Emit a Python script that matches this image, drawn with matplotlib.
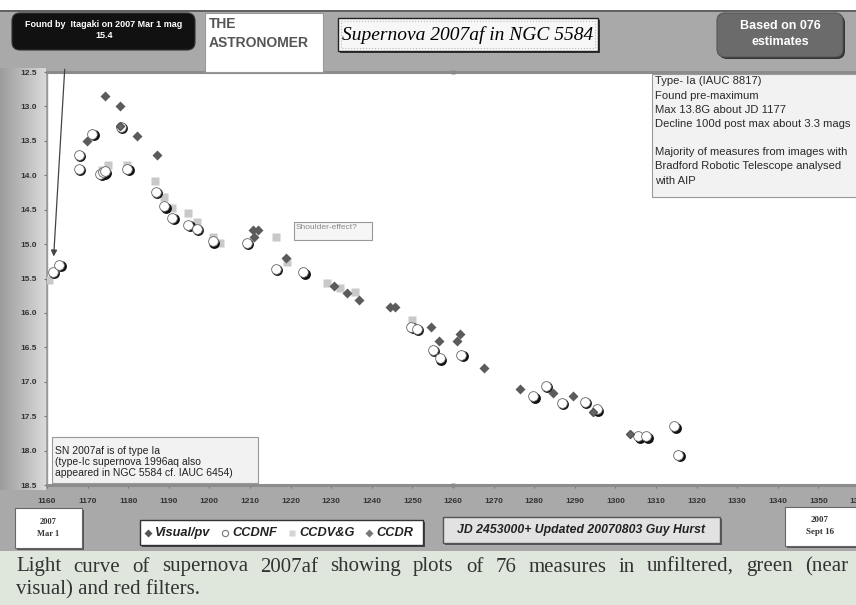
import matplotlib
matplotlib.use('Agg')
import matplotlib.pyplot as plt
import numpy as np
from matplotlib.patches import Rectangle, FancyBboxPatch
from matplotlib.colors import LinearSegmentedColormap
from matplotlib.transforms import offset_copy

# light curve data (JD - 2453000, magnitude)
visual_jd = [1169.8, 1174.3, 1178.1, 1182.1, 1187.0, 1210.8, 1212.0, 1211.1, 1218.9, 1230.7,
             1233.8, 1236.9, 1244.6, 1245.7, 1254.6, 1256.6, 1260.9, 1261.7, 1267.7, 1276.6,
             1284.6, 1289.6]
visual_mag = [13.50, 12.85, 13.00, 13.43, 13.70, 14.80, 14.80, 14.90, 15.20, 15.61,
              15.71, 15.81, 15.92, 15.92, 16.21, 16.41, 16.41, 16.31, 16.80, 17.10,
              17.16, 17.21]

ccdnf_jd = [1161.4, 1163.0, 1167.9, 1167.9, 1171.2, 1173.1, 1173.9, 1174.3, 1178.2, 1179.8,
            1186.8, 1188.9, 1190.9, 1194.8, 1196.9, 1200.8, 1209.2, 1216.3, 1223.1, 1249.7,
            1251.1, 1255.0, 1256.8, 1262.0, 1279.8, 1282.8, 1286.8, 1292.5, 1295.4, 1305.6,
            1307.6, 1314.5, 1315.5]
ccdnf_mag = [15.40, 15.30, 13.70, 13.91, 13.40, 13.98, 13.96, 13.94, 13.30, 13.91,
             14.24, 14.45, 14.62, 14.72, 14.78, 14.96, 14.98, 15.36, 15.41, 16.20,
             16.23, 16.54, 16.66, 16.61, 17.21, 17.06, 17.31, 17.29, 17.40, 17.79,
             17.79, 17.65, 18.06]

ccdvg_jd = [1160.5, 1173.5, 1175.0, 1179.8, 1186.6, 1188.8, 1190.9, 1194.8, 1196.9, 1200.8,
            1202.6, 1216.3, 1219.0, 1229.0, 1232.2, 1235.9, 1249.9]
ccdvg_mag = [15.52, 13.92, 13.85, 13.85, 14.08, 14.32, 14.48, 14.55, 14.68, 14.90,
             14.99, 14.90, 15.26, 15.57, 15.64, 15.70, 16.11]

ccdr_jd = [1178.0, 1294.4, 1303.6]
ccdr_mag = [13.29, 17.44, 17.76]

marker_jd = [1260, 1260]
marker_mag = [12.5, 18.5]

x_ticks = list(range(1160, 1361, 10))
y_ticks = [12.5, 13.0, 13.5, 14.0, 14.5, 15.0, 15.5, 16.0, 16.5, 17.0, 17.5, 18.0, 18.5]

legend_labels = ['Visual/pv', 'CCDNF', 'CCDV&G', 'CCDR']

caption_lines = ['Light curve of supernova 2007af showing plots of 76 measures in unfiltered, green (near',
                 'visual) and red filters.']

W, H = 856, 605
fig = plt.figure(figsize=(W / 100, H / 100), dpi=100)
fig.patch.set_facecolor('white')
renderer = fig.canvas.get_renderer()

SANS = 'Liberation Sans'
SERIF = 'Liberation Serif'

# background layer in pixel coords
bg = fig.add_axes([0, 0, 1, 1], zorder=0)
bg.axis('off')
bg.add_patch(Rectangle((0, 10), W, 541, facecolor='#a9a9a9', edgecolor='none'))
bg.plot([0, W], [10.5, 10.5], color='#555555', lw=1.2)
grad = LinearSegmentedColormap.from_list('g', ['#9c9c9c', '#dadada'])
bg.imshow(np.linspace(0, 1, 60)[None, :], cmap=grad, extent=[0, 46, 490, 68], aspect='auto', zorder=1)
bg.add_patch(Rectangle((0, 551), W, 54, facecolor='#dfe7dc', edgecolor='none'))
bg.set_xlim(0, W)
bg.set_ylim(H, 0)

# main plot
ax = fig.add_axes([47 / W, (H - 485) / H, (859 - 47) / W, (485 - 72) / H], zorder=2)
ax.set_facecolor('white')
ax.set_xlim(1160, 1360)
ax.set_ylim(18.5, 12.5)
ax.set_xticks(x_ticks)
ax.set_yticks(y_ticks)
ax.set_yticklabels(['%.1f' % v for v in y_ticks])
ax.tick_params(axis='both', direction='out', length=2.5, color='#777777', labelsize=6,
               labelcolor='#333333')
ax.tick_params(axis='x', pad=7)
ax.tick_params(axis='y', pad=5)
for lab in ax.get_xticklabels() + ax.get_yticklabels():
    lab.set_fontfamily(SANS)
    lab.set_fontweight('bold')
for side in ['top', 'bottom']:
    ax.spines[side].set_color('#8c8c8c')
    ax.spines[side].set_linewidth(2.2)
ax.spines['left'].set_color('#9a9a9a')
ax.spines['left'].set_linewidth(1)
ax.spines['right'].set_visible(False)

ax.plot(ccdvg_jd, ccdvg_mag, 's', ms=5.5, color='#c9c9c9', mec='none', zorder=3)
shadow = offset_copy(ax.transData, fig=fig, x=1.0, y=-1.0, units='points')
ax.plot(ccdnf_jd, ccdnf_mag, 'o', ms=7.8, color='#111111', mec='none', transform=shadow, zorder=4)
ax.plot(ccdnf_jd, ccdnf_mag, 'o', ms=7, color='white', mec='#666666', mew=0.6, zorder=5)
ax.plot(visual_jd, visual_mag, 'D', ms=5, color='#5b5b5b', mec='none', zorder=6)
ax.plot(ccdr_jd, ccdr_mag, 'D', ms=4.5, color='#666666', mec='#555555', zorder=6)
ax.plot(marker_jd, marker_mag, 's', ms=3, color='#8a8a8a', mec='none', clip_on=False, zorder=7)

ax.annotate('', xy=(1161.6, 15.22), xytext=(1164.4, 12.42), annotation_clip=False,
            arrowprops=dict(arrowstyle='-|>', color='#444444', lw=0.9, mutation_scale=9))

# overlay layer for boxes and texts in pixel coords
ov = fig.add_axes([0, 0, 1, 1], zorder=5)
ov.axis('off')
ov.patch.set_alpha(0)
ov.set_xlim(0, W)
ov.set_ylim(H, 0)


def box(x0, y0, x1, y1, fc, ec='#777777', lw=0.8, shadow=None, rounded=0, ls='-'):
    style = 'round,pad=0,rounding_size=%g' % rounded if rounded else 'square,pad=0'
    if shadow:
        ov.add_patch(FancyBboxPatch((x0 + 2, y0 + 2), x1 - x0, y1 - y0, boxstyle=style,
                                    facecolor=shadow, edgecolor='none'))
    ov.add_patch(FancyBboxPatch((x0, y0), x1 - x0, y1 - y0, boxstyle=style,
                                facecolor=fc, edgecolor=ec, lw=lw, ls=ls))


# header
box(12, 13, 195, 50, '#111111', ec='#333333', rounded=8)
ov.text(104, 30, 'Found by  Itagaki on 2007 Mar 1 mag\n15.4', ha='center', va='center',
        color='white', fontsize=6.5, fontweight='bold', family=SANS, linespacing=1.25)

box(205, 13, 323, 72, 'white', ec='#999999')
ov.text(209, 17, 'THE\nASTRONOMER', ha='left', va='top', color='#555555', fontsize=10,
        fontweight='bold', family=SANS, linespacing=1.45)

box(338, 18, 598, 51, '#f7f7f7', ec='#222222', lw=1, shadow='#333333')
ov.add_patch(Rectangle((341, 21), 254, 27, facecolor='none', edgecolor='#bbbbbb', lw=0.8, ls=':'))
ov.text(468, 35, 'Supernova 2007af in NGC 5584', ha='center', va='center', color='black',
        fontsize=14, style='italic', family=SERIF)

box(717, 13, 843, 57, '#6b6b6b', ec='#555555', rounded=8, shadow='#333333')
ov.text(780, 34, 'Based on 076\nestimates', ha='center', va='center', color='white',
        fontsize=9, fontweight='bold', family=SANS, linespacing=1.35)

# notes inside the plot
box(652, 74, 870, 197, '#f2f2f2', ec='#999999')
ov.text(655, 76.5, 'Type- Ia (IAUC 8817)\nFound pre-maximum\nMax 13.8G about JD 1177\n'
        'Decline 100d post max about 3.3 mags\n\nMajority of measures from images with\n'
        'Bradford Robotic Telescope analysed\nwith AIP',
        ha='left', va='top', color='#2a2a2a', fontsize=8.1, family=SANS, linespacing=1.52)

box(294, 222, 372, 240, '#f6f6f6', ec='#999999')
ov.text(296, 224, 'Shoulder-effect?', ha='left', va='top', color='#888888', fontsize=6, family=SANS)

box(52, 437, 258, 483, '#f2f2f2', ec='#999999')
ov.text(55, 446, 'SN 2007af is of type Ia\n(type-Ic supernova 1996aq also\n'
        'appeared in NGC 5584 cf. IAUC 6454)',
        ha='left', va='top', color='#222222', fontsize=7.5, family=SANS, linespacing=1.15)

# footer boxes
box(15, 508, 82, 548, 'white', ec='#666666', shadow='#555555')
ov.text(48, 528, '2007\nMar 1', ha='center', va='center', color='#333333', fontsize=6,
        fontweight='bold', family=SERIF, linespacing=1.5)

box(140, 520, 423, 545, 'white', ec='#333333', lw=1, shadow='#444444')
leg_y = 533
leg_markers = [('D', 4, '#555555', 'none'), ('o', 4.5, 'white', '#777777'),
               ('s', 4, '#d5d5d5', 'none'), ('D', 4, '#777777', 'none')]
lx = 145
for (mk, ms, fc, ec), label in zip(leg_markers, legend_labels):
    ov.plot([lx + 3], [leg_y], mk, ms=ms, color=fc, mec=ec, mew=0.8)
    t = ov.text(lx + 10, leg_y, label, ha='left', va='center', fontsize=9.2, fontweight='bold',
                style='italic', family=SANS, color='#222222')
    lx = lx + 10 + t.get_window_extent(renderer).width + 12

box(443, 517, 720, 543, '#e2e2e2', ec='#555555', lw=1, shadow='#555555')
ov.text(581, 530, 'JD 2453000+ Updated 20070803 Guy Hurst', ha='center', va='center',
        fontsize=8.8, fontweight='bold', style='italic', family=SANS, color='#222222')

box(785, 507, 875, 546, 'white', ec='#666666', shadow='#555555')
ov.text(820, 526, '2007\nSept 16', ha='center', va='center', color='#333333', fontsize=6.5,
        fontweight='bold', family=SERIF, linespacing=1.6)

# caption, first line justified between the margins
cap_kw = dict(ha='left', va='center', fontsize=15, family=SERIF, color='#333333')
words = caption_lines[0].split()
wtexts = [ov.text(0, 567, w, **cap_kw) for w in words]
widths = [t.get_window_extent(renderer).width for t in wtexts]
gap = (848 - 16 - sum(widths)) / (len(words) - 1)
cx = 16
for t, w in zip(wtexts, widths):
    t.set_x(cx)
    cx += w + gap
ov.text(16, 590, caption_lines[1], **cap_kw)

fig.savefig('out.png', dpi=100)
